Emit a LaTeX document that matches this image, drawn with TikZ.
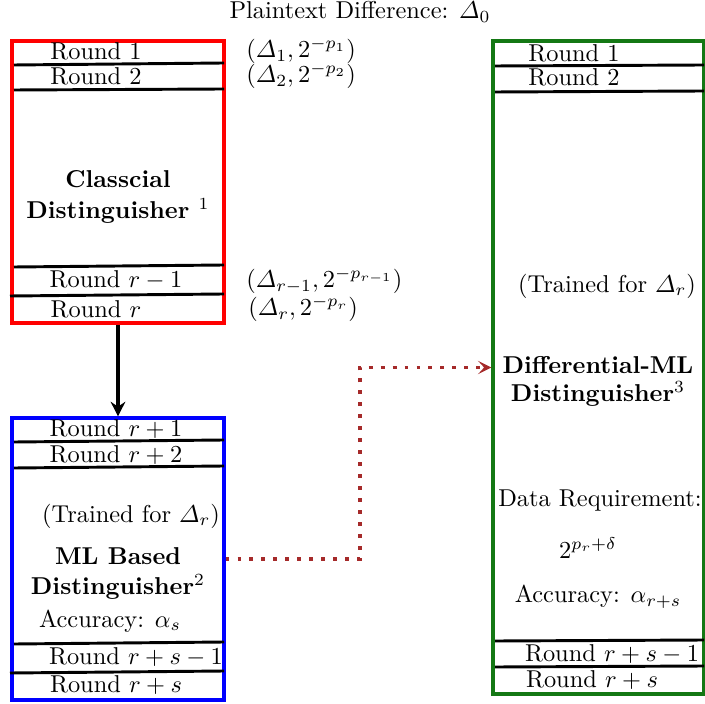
\documentclass[tikz,border=0pt]{standalone}
\usepackage{amsmath}
\usetikzlibrary{fit,arrows.meta}
\definecolor{dotbrown}{RGB}{165,42,42}
\definecolor{boxgreen}{RGB}{20,120,20}
\begin{document}
\begin{tikzpicture}[x=0.41pt,y=-0.41pt,
  box/.style={draw, line width=1.3pt, inner sep=0pt},
  sep/.style={line width=1.2pt},
  lbl/.style={inner sep=0pt},
  bold/.style={inner sep=0pt, font=\bfseries}]
\useasboundingbox (0,0) rectangle (705,704);

% title
\node[lbl] (title) at (360,12) {Plaintext Difference: $\varDelta_0$};

% boxes
\node[box, draw=red, fit={(12,41)(224,323)}] (cls) {};
\node[box, draw=blue, fit={(12,418)(224,700)}] (ml) {};
\node[box, draw=boxgreen, fit={(493,41)(704,694)}] (diff) {};

% classical distinguisher
\draw[sep] (14,65) -- (224,63);
\draw[sep] (14,90) -- (224,89);
\draw[sep] (14,267) -- (224,265);
\draw[sep] (10,296) -- (224,294);
\node[lbl] (c1) at (96,51) {Round 1};
\node[lbl] (c2) at (96,76) {Round 2};
\node[bold] (c3) at (118,179) {Classcial};
\node[bold] (c4) at (118,211) {Distinguisher $^1$};
\node[lbl] (c5) at (116,280) {Round $r-1$};
\node[lbl] (c6) at (96,309) {Round $r$};

\node[lbl, anchor=west] (p1) at (246,51) {$(\varDelta_1, 2^{-p_1})$};
\node[lbl, anchor=west] (p2) at (246,76) {$(\varDelta_2, 2^{-p_2})$};
\node[lbl, anchor=west] (p3) at (246,281) {$(\varDelta_{r-1}, 2^{-p_{r-1}})$};
\node[lbl, anchor=west] (p4) at (248,309) {$(\varDelta_r, 2^{-p_r})$};

% ML based distinguisher
\draw[sep] (14,442) -- (224,440);
\draw[sep] (14,468) -- (224,466);
\draw[sep] (14,644) -- (224,642);
\draw[sep] (10,673) -- (224,671);
\node[lbl] (m1) at (116,429) {Round $r+1$};
\node[lbl] (m2) at (116,455) {Round $r+2$};
\node[lbl] (m3) at (131,516) {(Trained for $\varDelta_r$)};
\node[bold] (m4) at (118,556) {ML Based};
\node[bold] (m5) at (118,587) {Distinguisher$^2$};
\node[lbl] (m6) at (110,621) {Accuracy: $\alpha_s$};
\node[lbl] (m7) at (136,657) {Round $r+s-1$};
\node[lbl] (m8) at (116,685) {Round $r+s$};

% differential-ML distinguisher
\draw[sep] (495,66) -- (704,65);
\draw[sep] (495,92) -- (704,91);
\draw[sep] (495,641) -- (704,640);
\draw[sep] (495,667) -- (704,666);
\node[lbl] (d1) at (574,53) {Round 1};
\node[lbl] (d2) at (574,77) {Round 2};
\node[lbl] (d3) at (607,286) {(Trained for $\varDelta_r$)};
\node[bold] (d4) at (598,365) {Differential-ML};
\node[bold] (d5) at (598,394) {Distinguisher$^3$};
\node[lbl] (d6) at (600,501) {Data Requirement:};
\node[lbl] (d7) at (588,548) {$2^{p_r+\delta}$};
\node[lbl] (d8) at (598,597) {Accuracy: $\alpha_{r+s}$};
\node[lbl] (d9) at (612,654) {Round $r+s-1$};
\node[lbl] (d10) at (592,680) {Round $r+s$};

% connectors
\draw[line width=1.3pt, -{Stealth[length=6pt,width=6pt,inset=2pt]}] (cls.south) -- (ml.north);
\draw[dotbrown, line width=1.6pt, line cap=butt, dash pattern=on 1.6pt off 3.3pt,
      -{Stealth[length=5.5pt,width=5.5pt,inset=2.5pt]}]
  (ml.east) -- ++(134,0) |- (diff.west);
\end{tikzpicture}
\end{document}
